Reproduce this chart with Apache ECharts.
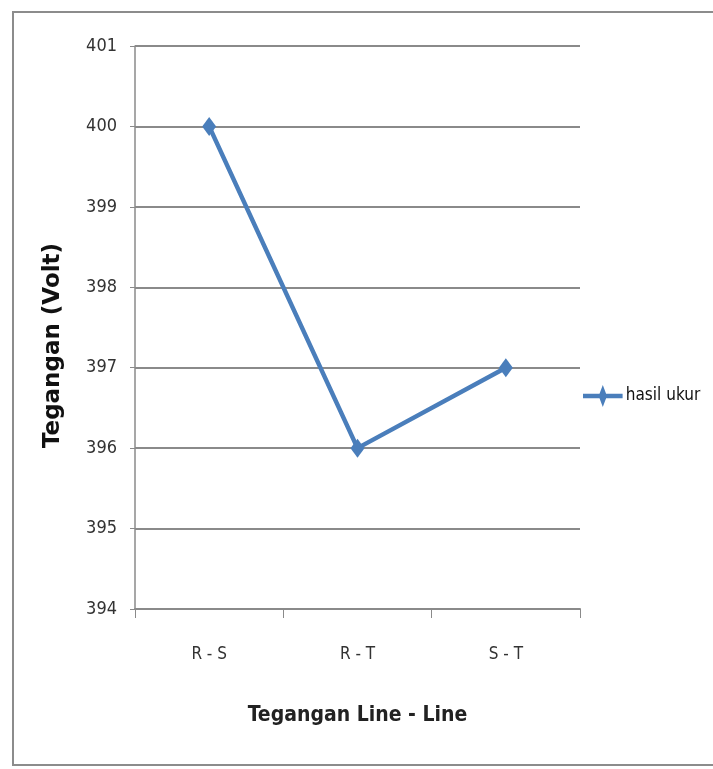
<!DOCTYPE html>
<html><head><meta charset="utf-8">
<script src="https://cdn.jsdelivr.net/npm/echarts@6/dist/echarts.min.js"></script>
<style>html,body{margin:0;padding:0;background:#fff}#c{width:713px;height:769px}</style>
</head><body><div id="c"></div>
<script>
const categories = ['R - S', 'R - T', 'S - T'];
const hasilUkur = [400, 396, 397];
const seriesName = 'hasil ukur';
const yMin = 394, yMax = 401, yStep = 1;
const xTitle = 'Tegangan Line - Line';
const yTitle = 'Tegangan (Volt)';
const narrow = '"DejaVu Sans Condensed", "Liberation Sans Narrow", "Roboto Condensed", Lato, sans-serif';

const chart = echarts.init(document.getElementById('c'));
chart.setOption({
  animation: false,
  backgroundColor: '#fff',
  graphic: [{type:'rect', shape:{x:13,y:12,width:720,height:753}, style:{fill:'none', stroke:'#8c8c8c', lineWidth:2}, silent:true}],
  grid: {left:135, right:133, top:46, bottom:160},
  legend: {
    data:[{name:seriesName, icon:'path://M0,8L15,8L18,0L21,8L36,8L36,12L21,12L18,20L15,12L0,12Z'}],
    left:578, top:380, itemWidth:44, itemHeight:22, itemGap:4,
    textStyle:{fontFamily:narrow, fontSize:17, color:'#111', padding:[0,0,0,-4]}
  },
  xAxis: {
    type:'category', data:categories, boundaryGap:true,
    name:xTitle, nameLocation:'middle', nameGap:96,
    nameTextStyle:{fontFamily:narrow, fontSize:21, fontWeight:'bold', color:'#222'},
    axisLine:{lineStyle:{color:'#8a8a8a', width:2}},
    axisTick:{show:true, length:9, alignWithLabel:false, lineStyle:{color:'#8a8a8a', width:1}},
    axisLabel:{fontFamily:narrow, fontSize:17, color:'#333', margin:37}
  },
  yAxis: {
    type:'value', min:yMin, max:yMax, interval:yStep,
    name:yTitle, nameLocation:'middle', nameGap:70, nameRotate:90,
    nameTextStyle:{fontFamily:'"DejaVu Sans", sans-serif', fontSize:23, fontWeight:'bold', color:'#111', padding:[0,36,0,0]},
    axisLine:{show:true, lineStyle:{color:'#8a8a8a', width:1.5}},
    axisTick:{show:true, length:5, lineStyle:{color:'#8a8a8a'}},
    axisLabel:{fontFamily:narrow, fontSize:18, color:'#333', margin:18},
    splitLine:{lineStyle:{color:'#8a8a8a', width:2}}
  },
  series: [{
    name:seriesName, type:'line', data:hasilUkur,
    symbol:'diamond', symbolSize:[14,19],
    lineStyle:{color:'#4a7ebb', width:4.5},
    itemStyle:{color:'#4a7ebb'}
  }]
});
</script></body></html>
